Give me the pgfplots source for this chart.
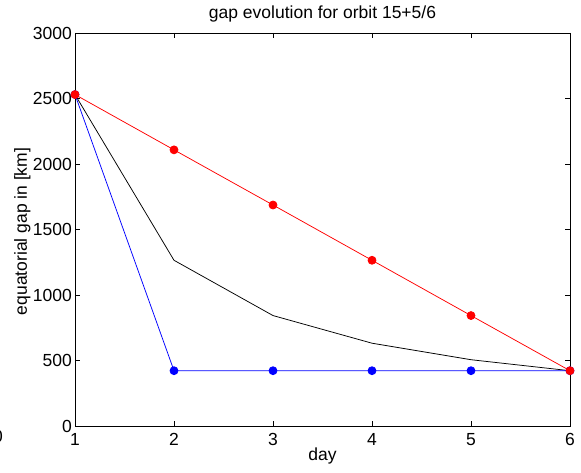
\documentclass[border=0pt]{standalone}
\usepackage{pgfplots}
\pgfplotsset{compat=1.18}
\usepackage{fontspec}
\setmainfont{Liberation Sans}
\begin{document}
\begin{tikzpicture}[x=1pt,y=1pt]
\useasboundingbox (0,0) rectangle (581,473);
\begin{axis}[
  at={(75pt,47pt)}, anchor=south west,
  scale only axis, width=495pt, height=393pt,
  xmin=1, xmax=6, ymin=0, ymax=3000,
  xtick={1,2,3,4,5,6}, ytick={0,500,1000,1500,2000,2500,3000},
  tick align=inside, major tick length=5pt,
  xtick pos=both, ytick pos=both,
  font=\fontsize{17.5}{21}\selectfont,
  /pgf/number format/assume math mode=true,
  /pgf/number format/1000 sep={},
  scaled y ticks=false,
  yticklabel style={inner sep=0pt, xshift=-3pt},
  xticklabel style={inner sep=0pt, yshift=-7pt},
  axis line style={line width=0.9pt},
  tick style={line width=0.6pt, black},
  title={gap evolution for orbit 15+5/6},
  title style={at={(axis description cs:0.5,1)}, anchor=base, yshift=8pt, inner sep=0pt},
  xlabel={day}, ylabel={equatorial gap in [km]},
  xlabel style={at={(axis description cs:0.5,0)}, anchor=base, yshift=-35pt, inner sep=0pt},
  ylabel style={at={(axis description cs:-0.097,0.495)}, anchor=base, inner sep=0pt},
  every axis plot/.append style={line width=0.75pt},
]
\addplot[black] coordinates {(1,2530) (2,1265) (3,843) (4,632) (5,506) (6,422)};
\addplot[blue, mark=*, mark size=4pt] coordinates {(1,2530) (2,422) (3,422) (4,422) (5,422) (6,422)};
\addplot[red, mark=*, mark size=4pt] coordinates {(1,2530) (2,2108) (3,1687) (4,1265) (5,843) (6,422)};
\end{axis}
\node[font=\fontsize{17.5}{21}\selectfont, inner sep=0pt] at (-2,37) {0};
\end{tikzpicture}
\end{document}
